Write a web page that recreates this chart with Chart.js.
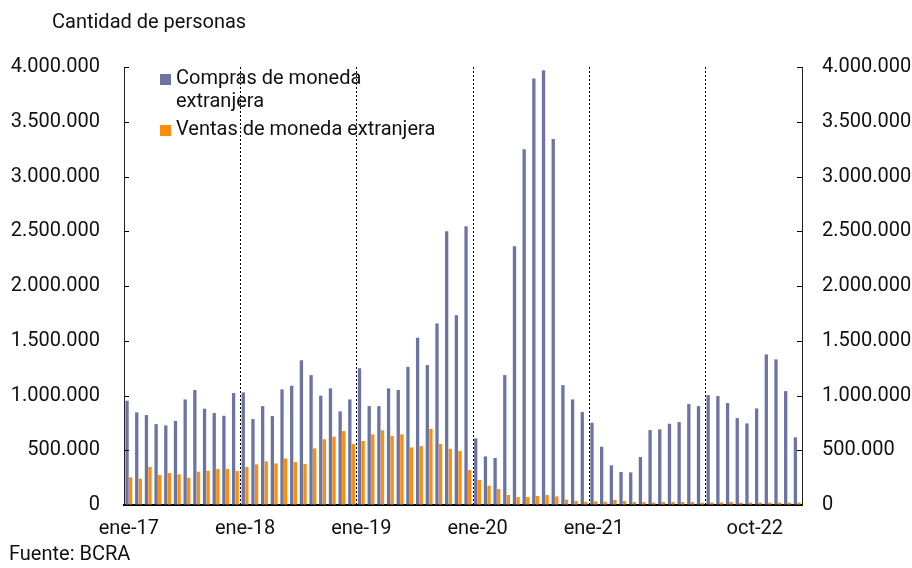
<!DOCTYPE html>
<html>
<head>
<meta charset="utf-8">
<script src="https://cdn.jsdelivr.net/npm/chart.js@4"></script>
<style>
  body { margin: 0; background: #fff; }
  #wrap { width: 912px; height: 568px; }
</style>
</head>
<body>
<div id="wrap"><canvas id="fxChart" width="912" height="568"></canvas></div>
<script>
const months = [
    'ene-17', 'feb-17', 'mar-17', 'abr-17', 'may-17', 'jun-17', 'jul-17', 'ago-17', 'sep-17', 'oct-17', 'nov-17', 'dic-17',
    'ene-18', 'feb-18', 'mar-18', 'abr-18', 'may-18', 'jun-18', 'jul-18', 'ago-18', 'sep-18', 'oct-18', 'nov-18', 'dic-18',
    'ene-19', 'feb-19', 'mar-19', 'abr-19', 'may-19', 'jun-19', 'jul-19', 'ago-19', 'sep-19', 'oct-19', 'nov-19', 'dic-19',
    'ene-20', 'feb-20', 'mar-20', 'abr-20', 'may-20', 'jun-20', 'jul-20', 'ago-20', 'sep-20', 'oct-20', 'nov-20', 'dic-20',
    'ene-21', 'feb-21', 'mar-21', 'abr-21', 'may-21', 'jun-21', 'jul-21', 'ago-21', 'sep-21', 'oct-21', 'nov-21', 'dic-21',
    'ene-22', 'feb-22', 'mar-22', 'abr-22', 'may-22', 'jun-22', 'jul-22', 'ago-22', 'sep-22', 'oct-22'
];

const compras = [
    952000, 846000, 821000, 739000, 727000, 767000, 964000, 1050000, 879000, 840000, 815000, 1022000,
    1028000, 785000, 903000, 812000, 1056000, 1089000, 1323000, 1186000, 998000, 1065000, 855000, 964000,
    1248000, 903000, 903000, 1065000, 1050000, 1262000, 1527000, 1278000, 1658000, 2500000, 1734000, 2546000,
    609000, 444000, 429000, 1186000, 2364000, 3249000, 3894000, 3970000, 3343000, 1095000, 964000, 849000,
    751000, 532000, 362000, 301000, 298000, 438000, 684000, 691000, 742000, 757000, 922000, 903000,
    1004000, 995000, 931000, 794000, 745000, 882000, 1375000, 1330000, 1040000, 618000
];

const ventas = [
    253000, 240000, 347000, 274000, 292000, 280000, 249000, 304000, 313000, 329000, 329000, 310000,
    347000, 371000, 399000, 380000, 423000, 392000, 374000, 517000, 600000, 624000, 675000, 557000,
    584000, 645000, 682000, 630000, 645000, 526000, 538000, 694000, 557000, 514000, 493000, 319000,
    228000, 176000, 146000, 91000, 73000, 73000, 82000, 91000, 79000, 49000, 37000, 30000,
    33000, 30000, 46000, 37000, 27000, 27000, 22000, 27000, 27000, 27000, 27000, 20000,
    22000, 22000, 27000, 22000, 22000, 22000, 22000, 22000, 22000, 22000
];

const tickLabels = ['ene-17', 'ene-18', 'ene-19', 'ene-20', 'ene-21', 'oct-22'];
const yearStarts = ['ene-18', 'ene-19', 'ene-20', 'ene-21', 'ene-22'];

const FONT = '20px Roboto';
const TEXT = '#111';

function fmt(v) {
    return String(v).replace(/\B(?=(\d{3})+(?!\d))/g, '.');
}

// dotted year separators, inner ticks, x labels, legend and notes
const decor = {
    id: 'decor',
    beforeDatasetsDraw(chart) {
        const ctx = chart.ctx, area = chart.chartArea, x = chart.scales.x;
        ctx.save();
        ctx.strokeStyle = '#000';
        ctx.lineWidth = 1;
        ctx.setLineDash([2, 2]);
        yearStarts.forEach(function (m) {
            const i = months.indexOf(m);
            const px = Math.round((x.getPixelForValue(i - 1) + x.getPixelForValue(i)) / 2) + 0.5;
            ctx.beginPath();
            ctx.moveTo(px, area.top);
            ctx.lineTo(px, area.bottom);
            ctx.stroke();
        });
        ctx.restore();
    },
    afterDraw(chart) {
        const ctx = chart.ctx, area = chart.chartArea, x = chart.scales.x, y = chart.scales.y;
        ctx.save();

        // ticks pointing into the plot on both sides
        ctx.strokeStyle = '#000';
        ctx.lineWidth = 1;
        y.ticks.forEach(function (t) {
            const py = Math.round(y.getPixelForValue(t.value)) + 0.5;
            ctx.beginPath();
            ctx.moveTo(area.left, py);
            ctx.lineTo(area.left + 5, py);
            ctx.moveTo(area.right - 5, py);
            ctx.lineTo(area.right, py);
            ctx.stroke();
        });

        ctx.font = FONT;
        ctx.fillStyle = TEXT;
        ctx.textBaseline = 'middle';

        // category labels
        tickLabels.forEach(function (lbl) {
            const i = months.indexOf(lbl);
            if (i === months.length - 1) {
                ctx.textAlign = 'right';
                ctx.fillText(lbl, area.right - 19, area.bottom + 24);
            } else {
                ctx.textAlign = 'center';
                ctx.fillText(lbl, x.getPixelForValue(i), area.bottom + 24);
            }
        });

        // legend
        ctx.textAlign = 'left';
        let ly = 79;
        chart.data.datasets.forEach(function (ds) {
            const words = ds.label.split(' ');
            const lines = [];
            let cur = '';
            words.forEach(function (w) {
                const test = cur ? cur + ' ' + w : w;
                if (ctx.measureText(test).width > 265 && cur) {
                    lines.push(cur);
                    cur = w;
                } else {
                    cur = test;
                }
            });
            lines.push(cur);
            ctx.fillStyle = ds.backgroundColor;
            ctx.fillRect(160, ly - 5, 11, 11);
            ctx.fillStyle = TEXT;
            lines.forEach(function (line, k) {
                ctx.fillText(line, 176, ly + k * 23);
            });
            ly += lines.length * 23 + 5;
        });

        ctx.fillText('Cantidad de personas', 52, 23);
        ctx.fillText('Fuente: BCRA', 9, 555);
        ctx.restore();
    }
};

const ctx = document.getElementById('fxChart').getContext('2d');

new Chart(ctx, {
    type: 'bar',
    data: {
        labels: months,
        datasets: [
            {
                label: 'Compras de moneda extranjera',
                data: compras,
                backgroundColor: '#6b74a3',
                categoryPercentage: 0.74,
                barPercentage: 0.92
            },
            {
                label: 'Ventas de moneda extranjera',
                data: ventas,
                backgroundColor: '#ff8c0a',
                categoryPercentage: 0.74,
                barPercentage: 0.92
            }
        ]
    },
    options: {
        responsive: false,
        animation: false,
        layout: { padding: { top: 67, left: 0, right: 0, bottom: 0 } },
        plugins: {
            legend: { display: false },
            tooltip: { enabled: false }
        },
        scales: {
            x: {
                grid: { display: false, drawTicks: false },
                border: { display: true, color: '#000', width: 2 },
                ticks: { display: false },
                afterFit: function (s) { s.height = 63; }
            },
            y: {
                position: 'left',
                min: 0,
                max: 4000000,
                grid: { drawOnChartArea: false, drawTicks: false },
                border: { display: true, color: '#222', width: 1 },
                ticks: {
                    stepSize: 500000,
                    padding: 24,
                    color: TEXT,
                    font: { family: 'Roboto', size: 20 },
                    callback: function (v) { return fmt(v); }
                },
                afterFit: function (s) { s.width = 124; }
            },
            y2: {
                position: 'right',
                min: 0,
                max: 4000000,
                grid: { drawOnChartArea: false, drawTicks: false },
                border: { display: true, color: '#222', width: 1 },
                ticks: {
                    stepSize: 500000,
                    padding: 20,
                    color: TEXT,
                    font: { family: 'Roboto', size: 20 },
                    callback: function (v) { return fmt(v); }
                },
                afterFit: function (s) { s.width = 110; }
            }
        }
    },
    plugins: [decor]
});
</script>
</body>
</html>
